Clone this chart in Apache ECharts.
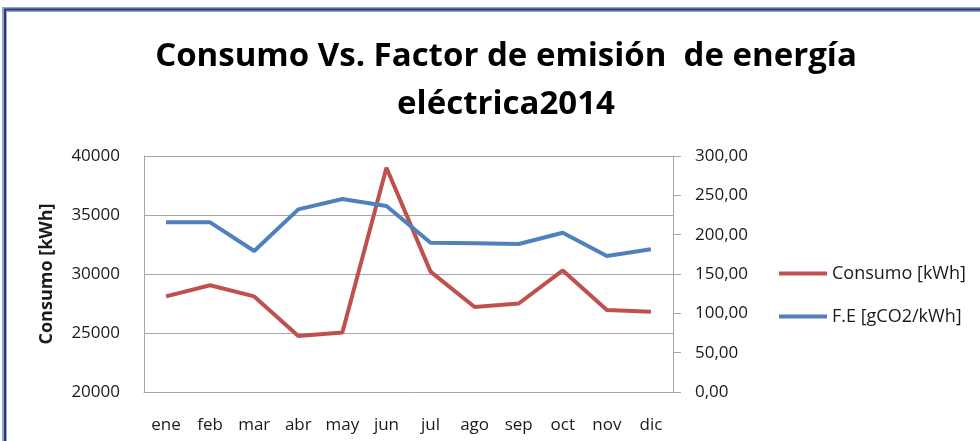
<!DOCTYPE html>
<html>
<head>
<meta charset="utf-8">
<script src="https://cdn.jsdelivr.net/npm/echarts@6/dist/echarts.min.js"></script>
<style>
  html, body { margin: 0; padding: 0; background: #fff; }
  #main { width: 980px; height: 441px; }
</style>
</head>
<body>
<div id="main"></div>
<script>
var months = ['ene', 'feb', 'mar', 'abr', 'may', 'jun', 'jul', 'ago', 'sep', 'oct', 'nov', 'dic'];
// consumo mensual en kWh (eje izquierdo)
var consumo = [28100, 29050, 28100, 24750, 25050, 39000, 30200, 27200, 27500, 30300, 26950, 26800];
// factor de emision gCO2/kWh (eje derecho)
var factorEmision = [215.7, 215.7, 179.2, 232.2, 245.3, 236.4, 189.8, 189.0, 188.1, 202.5, 172.9, 181.4];

var chart = echarts.init(document.getElementById('main'));
var fontName = 'Open Sans';
var txtColor = '#1a1a1a';
var gridColor = '#a6a6a6';

option = {
    animation: false,
    backgroundColor: '#fff',
    title: {
        text: 'Consumo Vs. Factor de emisión  de energía\neléctrica2014',
        left: 501,
        top: 28,
        textAlign: 'center',
        textStyle: {
            fontFamily: fontName,
            fontWeight: 'bold',
            fontSize: 33,
            lineHeight: 48,
            color: '#000'
        }
    },
    legend: {
        orient: 'vertical',
        left: 774,
        top: 258,
        itemWidth: 48,
        itemHeight: 4,
        itemGap: 22,
        icon: 'rect',
        textStyle: {
            fontFamily: fontName,
            fontSize: 18,
            lineHeight: 21,
            color: txtColor
        },
        data: ['Consumo [kWh]', 'F.E [gCO2/kWh]']
    },
    grid: {
        left: 144,
        right: 307,
        top: 156,
        bottom: 49
    },
    xAxis: {
        type: 'category',
        boundaryGap: true,
        data: months,
        axisLine: { show: true, lineStyle: { color: gridColor } },
        axisTick: { show: false },
        axisLabel: {
            margin: 25,
            fontFamily: fontName,
            fontSize: 17,
            color: txtColor,
            interval: 0
        }
    },
    yAxis: [
        {
            type: 'value',
            min: 20000,
            max: 40000,
            interval: 5000,
            name: 'Consumo [kWh]',
            nameLocation: 'middle',
            nameRotate: 90,
            nameGap: 88,
            nameTextStyle: {
                fontFamily: fontName,
                fontWeight: 'bold',
                fontSize: 18,
                color: txtColor
            },
            axisLine: { show: true, lineStyle: { color: gridColor } },
            axisTick: { show: false },
            splitLine: { show: true, lineStyle: { color: gridColor, width: 1 } },
            axisLabel: {
                margin: 24,
                fontFamily: fontName,
                fontSize: 17,
                color: txtColor,
                formatter: function (v) { return String(v); }
            }
        },
        {
            type: 'value',
            position: 'right',
            min: 0,
            max: 300,
            interval: 50,
            axisLine: { show: true, lineStyle: { color: gridColor } },
            axisTick: { show: true, length: 8, lineStyle: { color: gridColor } },
            splitLine: { show: false },
            axisLabel: {
                margin: 22,
                fontFamily: fontName,
                fontSize: 17,
                color: txtColor,
                formatter: function (v) { return v.toFixed(2).replace('.', ','); }
            }
        }
    ],
    series: [
        {
            name: 'Consumo [kWh]',
            type: 'line',
            yAxisIndex: 0,
            data: consumo,
            showSymbol: false,
            symbol: 'none',
            itemStyle: { color: '#c0504d' },
            lineStyle: { color: '#c0504d', width: 4 }
        },
        {
            name: 'F.E [gCO2/kWh]',
            type: 'line',
            yAxisIndex: 1,
            data: factorEmision,
            showSymbol: false,
            symbol: 'none',
            itemStyle: { color: '#4f81bd' },
            lineStyle: { color: '#4f81bd', width: 4 }
        }
    ],
    graphic: [
        {
            type: 'rect',
            shape: { x: 4.5, y: 9.5, width: 1000, height: 460 },
            style: { fill: null, stroke: '#8fa2dc', lineWidth: 5 },
            z: 100
        },
        {
            type: 'rect',
            shape: { x: 5, y: 9.5, width: 1000, height: 460 },
            style: { fill: null, stroke: '#2f3a66', lineWidth: 2 },
            z: 101
        }
    ]
};
chart.setOption(option);
</script>
</body>
</html>
